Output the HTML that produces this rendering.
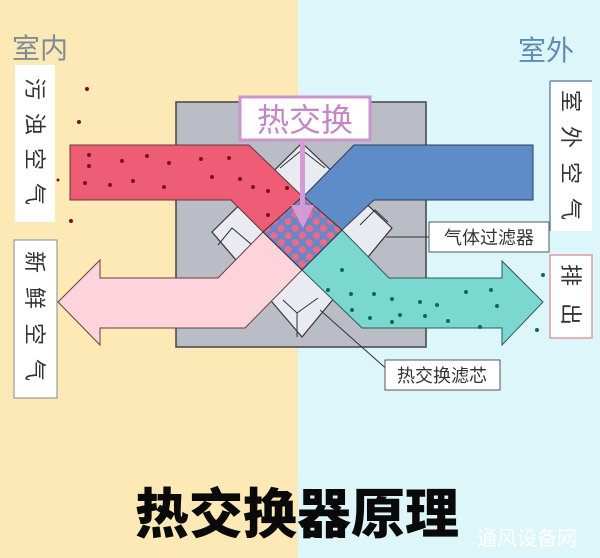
<!DOCTYPE html>
<html><head><meta charset="utf-8"><style>
html,body{margin:0;padding:0;width:600px;height:558px;overflow:hidden}
svg text{font-family:"Liberation Sans","Noto Sans CJK SC",sans-serif}
</style></head><body>
<svg width="600" height="558" viewBox="0 0 600 558" xmlns="http://www.w3.org/2000/svg">
<defs>
<pattern id="chk" width="10" height="10" patternUnits="userSpaceOnUse" patternTransform="rotate(45 303 232)">
<rect width="10" height="10" fill="#6a86c8"/>
<circle cx="5" cy="5" r="3.6" fill="#ec6a86"/>
</pattern>
</defs>
<rect x="0" y="0" width="298" height="558" fill="#fde9b6"/>
<rect x="298" y="0" width="302" height="558" fill="#ddf6f9"/>
<text x="12" y="58" font-size="28" fill="#7f8c96">室内</text>
<text x="518" y="60" font-size="28" fill="#5e8db3">室外</text>
<rect x="176" y="102" width="250" height="245" fill="#babdc5" stroke="#444" stroke-width="1.5"/>
<polygon points="302,143 392,228 302,337 212,232" fill="#e9ebf1" stroke="#333" stroke-width="1.2"/>
<polyline points="280,168 302,150 325,168" fill="none" stroke="#333" stroke-width="1"/>
<polyline points="218,245 232,228 258,250" fill="none" stroke="#333" stroke-width="1"/>
<polyline points="360,225 375,210 388,222" fill="none" stroke="#333" stroke-width="1"/>
<polyline points="283,300 297,313 318,298" fill="none" stroke="#333" stroke-width="1"/>
<line x1="297" y1="313" x2="297" y2="337" stroke="#333" stroke-width="1"/>
<polygon points="70,145 249,145 303,197 263,232 231,200 70,200" fill="#ee5c76" stroke="#5a3a3a" stroke-width="1"/>
<polygon points="533,145 354,145 303,197 342,230 374,200 533,200" fill="#5d8cc8" stroke="#2d3c5a" stroke-width="1"/>
<polygon points="100,278 218,278 263,232 302,270 245,328 100,328 100,345 58,302 100,260" fill="#fdd3dc" stroke="#6b3d3d" stroke-width="1"/>
<polygon points="502,278 389,278 342,230 302,270 362,328 502,328 502,345 543,302 502,261" fill="#7ad8d1" stroke="#2f5a58" stroke-width="1"/>
<polygon points="303,196 342,230 302,270 263,232" fill="url(#chk)" stroke="#333" stroke-width="1"/>
<g fill="#7a1020">
<circle cx="89" cy="155" r="2"/><circle cx="89" cy="166" r="2"/><circle cx="85" cy="183" r="2"/><circle cx="110" cy="185" r="2"/><circle cx="122" cy="161" r="2"/><circle cx="147" cy="156" r="2"/><circle cx="133" cy="181" r="2"/><circle cx="169" cy="163" r="2"/><circle cx="164" cy="187" r="2"/><circle cx="201" cy="159" r="2"/><circle cx="229" cy="158" r="2"/><circle cx="212" cy="177" r="2"/><circle cx="240" cy="179" r="2"/><circle cx="253" cy="187" r="2"/><circle cx="268" cy="191" r="2"/><circle cx="268" cy="215" r="2"/><circle cx="287" cy="188" r="2"/>
<circle cx="87" cy="89" r="2"/><circle cx="79" cy="122" r="2"/><circle cx="58" cy="180" r="1.5"/><circle cx="71" cy="221" r="2"/>
</g>
<g fill="#11665f">
<circle cx="342" cy="270" r="2"/><circle cx="328" cy="290" r="2"/><circle cx="351" cy="294" r="2"/><circle cx="374" cy="294" r="2"/><circle cx="352" cy="310" r="2"/><circle cx="370" cy="318" r="2"/><circle cx="392" cy="299" r="2"/><circle cx="392" cy="322" r="2"/><circle cx="400" cy="315" r="2"/><circle cx="420" cy="302" r="2"/><circle cx="437" cy="305" r="2"/><circle cx="448" cy="321" r="2"/><circle cx="466" cy="292" r="2"/><circle cx="491" cy="290" r="2"/><circle cx="497" cy="306" r="2"/><circle cx="480" cy="327" r="2"/><circle cx="425" cy="316" r="2"/>
<circle cx="543" cy="275" r="2"/><circle cx="537" cy="330" r="2"/>
</g>
<rect x="240" y="97" width="130" height="43" fill="#fff" stroke="#cc94cc" stroke-width="3"/>
<text x="305" y="131" font-size="32" fill="#c487c4" text-anchor="middle">热交换</text>
<rect x="300" y="140" width="5" height="70" fill="#d49ad8"/>
<polygon points="291,205 314,205 303,228" fill="#d49ad8"/>
<rect x="15" y="65" width="40" height="157" fill="#fff"/>
<g font-size="22" fill="#333" text-anchor="middle">
<text x="35" y="97" transform="rotate(90 35 89)">污</text><text x="35" y="132" transform="rotate(90 35 124)">浊</text><text x="35" y="167" transform="rotate(90 35 159)">空</text><text x="35" y="202" transform="rotate(90 35 194)">气</text>
</g>
<rect x="14" y="240" width="43" height="158" fill="#fff" stroke="#888" stroke-width="1"/>
<g font-size="22" fill="#333" text-anchor="middle">
<text x="35" y="270" transform="rotate(90 35 262)">新</text><text x="35" y="306" transform="rotate(90 35 298)">鲜</text><text x="35" y="342" transform="rotate(90 35 334)">空</text><text x="35" y="378" transform="rotate(90 35 370)">气</text>
</g>
<rect x="550" y="81" width="42" height="150" fill="#fff"/>
<line x1="550" y1="81" x2="550" y2="231" stroke="#6a88b0" stroke-width="1.5"/>
<line x1="550" y1="81" x2="592" y2="81" stroke="#6a88b0" stroke-width="1.5"/>
<g font-size="22" fill="#333" text-anchor="middle">
<text x="571" y="109" transform="rotate(90 571 101)">室</text><text x="571" y="145" transform="rotate(90 571 137)">外</text><text x="571" y="181" transform="rotate(90 571 173)">空</text><text x="571" y="217" transform="rotate(90 571 209)">气</text>
</g>
<rect x="550" y="255" width="42" height="83" fill="#fff" stroke="#e09aa0" stroke-width="1.5"/>
<g font-size="22" fill="#333" text-anchor="middle">
<text x="571" y="283" transform="rotate(90 571 275)">排</text><text x="571" y="322" transform="rotate(90 571 314)">出</text>
</g>
<line x1="386" y1="237" x2="430" y2="237" stroke="#333" stroke-width="1"/>
<rect x="429" y="222" width="120" height="30" fill="#fff" stroke="#555" stroke-width="1"/>
<text x="489" y="244" font-size="18" fill="#333" text-anchor="middle">气体过滤器</text>
<line x1="320" y1="310" x2="390" y2="372" stroke="#333" stroke-width="1"/>
<rect x="385" y="360" width="115" height="30" fill="#fff" stroke="#555" stroke-width="1"/>
<text x="442" y="382" font-size="18" fill="#333" text-anchor="middle">热交换滤芯</text>
<text x="297" y="533" font-size="54" fill="#0a0a0a" text-anchor="middle" style="font-family:'Noto Sans CJK SC',sans-serif;font-weight:900">热交换器原理</text>
<text x="527" y="545" font-size="20" fill="#fff" text-anchor="middle">通风设备网</text>
</svg>
</body></html>
